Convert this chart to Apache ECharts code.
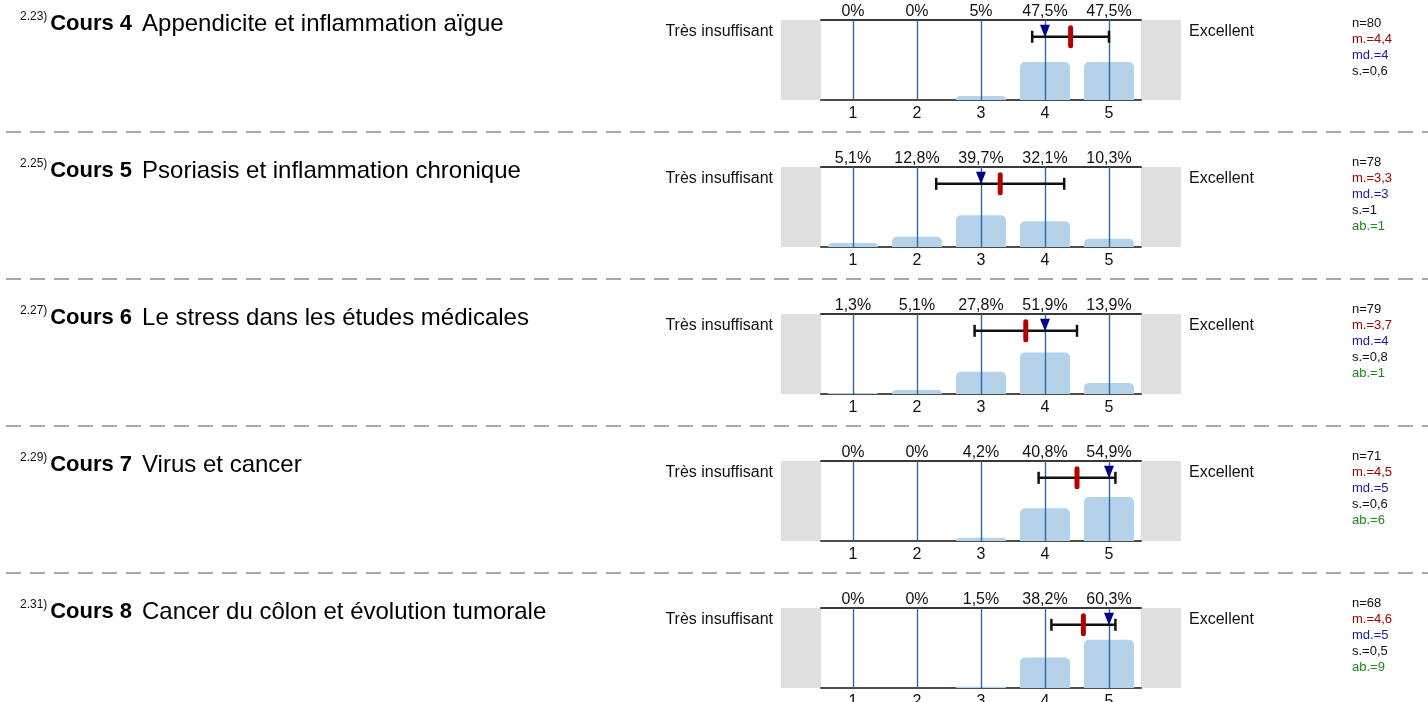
<!DOCTYPE html>
<html>
<head>
<meta charset="utf-8">
<script src="https://cdn.jsdelivr.net/npm/echarts@6/dist/echarts.min.js"></script>
<style>
html,body{margin:0;padding:0;background:#fff;}
#c{width:1428px;height:702px;}
</style>
</head>
<body>
<div id="c"></div>
<script>
// ---- data ----
const itemNumbers = ['2.23)', '2.25)', '2.27)', '2.29)', '2.31)'];
const courseLabels = ['Cours 4', 'Cours 5', 'Cours 6', 'Cours 7', 'Cours 8'];
const courseTitles = [
  'Appendicite et inflammation aïgue',
  'Psoriasis et inflammation chronique',
  'Le stress dans les études médicales',
  'Virus et cancer',
  'Cancer du côlon et évolution tumorale'
];
const scaleValues = [1, 2, 3, 4, 5];
const percents = [
  [0, 0, 5, 47.5, 47.5],
  [5.1, 12.8, 39.7, 32.1, 10.3],
  [1.3, 5.1, 27.8, 51.9, 13.9],
  [0, 0, 4.2, 40.8, 54.9],
  [0, 0, 1.5, 38.2, 60.3]
];
const nValues = [80, 78, 79, 71, 68];
const means = [4.4, 3.3, 3.7, 4.5, 4.6];
const medians = [4, 3, 4, 5, 5];
const stdDevs = [0.6, 1, 0.8, 0.6, 0.5];
const abstentions = [null, 1, 1, 6, 9];
const leftLabel = 'Très insuffisant';
const rightLabel = 'Excellent';

// ---- layout ----
const FONT = '"Liberation Sans", Arial, sans-serif';
const PLOT_LEFT = 821, PLOT_W = 320, PLOT_H = 80, TOP0 = 20, STEP = 147;
const ERR_Y = 79;
const fr = v => String(v).replace('.', ',');

const grids = [], xAxes = [], yAxes = [], series = [], graphics = [];

for (let i = 0; i < percents.length; i++) {
  const top = TOP0 + STEP * i;
  grids.push({left: PLOT_LEFT, top: top, width: PLOT_W, height: PLOT_H,
    containLabel: false, outerBoundsMode: 'none'});
  const pct = percents[i];
  // bottom axis
  xAxes.push({
    type: 'value', gridIndex: i, min: 0.5, max: 5.5, position: 'bottom',
    axisLine: {show: true, lineStyle: {color: '#4d4d4d', width: 2}},
    axisTick: {show: false},
    splitLine: {show: false},
    axisLabel: {show: true, customValues: scaleValues, margin: 6,
      color: '#111', fontSize: 16, fontFamily: FONT}
  });
  // top axis (percent labels)
  xAxes.push({
    type: 'value', gridIndex: i, min: 0.5, max: 5.5, position: 'top',
    axisLine: {show: true, lineStyle: {color: '#3a3a3a', width: 2}},
    axisTick: {show: false},
    splitLine: {show: false},
    axisLabel: {show: true, customValues: scaleValues, margin: 0,
      color: '#111', fontSize: 16, fontFamily: FONT,
      formatter: v => fr(pct[Math.round(v) - 1]) + '%'}
  });
  yAxes.push({type: 'value', gridIndex: i, min: 0, max: 100, show: false});

  series.push({
    type: 'bar', xAxisIndex: 2 * i, yAxisIndex: i,
    data: scaleValues.map((v, k) => [v, pct[k]]),
    barWidth: 50,
    itemStyle: {color: '#b4d3eb', borderRadius: [5, 5, 0, 0]},
    silent: true,
    markLine: {
      silent: true, symbol: ['none', 'none'], label: {show: false},
      lineStyle: {color: '#3068a6', width: 1.4, type: 'solid'},
      data: scaleValues.map(v => ({xAxis: v}))
    },
    z: 2
  });
  series.push({
    type: 'custom', xAxisIndex: 2 * i, yAxisIndex: i, z: 5, silent: true,
    data: [[means[i], stdDevs[i], medians[i], ERR_Y]],
    renderItem: function (params, api) {
      const m = api.value(0), s = api.value(1), md = api.value(2), yv = api.value(3);
      const pL = api.coord([m - s, yv]), pR = api.coord([m + s, yv]);
      const pM = api.coord([m, yv]), pD = api.coord([md, yv]);
      const ls = {stroke: '#111', lineWidth: 2.5};
      return {type: 'group', children: [
        {type: 'line', shape: {x1: pL[0], y1: pL[1], x2: pR[0], y2: pR[1]}, style: ls},
        {type: 'line', shape: {x1: pL[0], y1: pL[1] - 6, x2: pL[0], y2: pL[1] + 6}, style: ls},
        {type: 'line', shape: {x1: pR[0], y1: pR[1] - 6, x2: pR[0], y2: pR[1] + 6}, style: ls},
        {type: 'rect', shape: {x: pM[0] - 2.5, y: pM[1] - 11.5, width: 5, height: 23, r: 2.5},
          style: {fill: '#b40000'}},
        {type: 'polygon', shape: {points: [[pD[0] - 5, pD[1] - 12], [pD[0] + 5, pD[1] - 12], [pD[0], pD[1] + 0.5]]},
          style: {fill: '#000088'}}
      ]};
    }
  });

  // gray boxes
  graphics.push({type: 'rect', z: -10, shape: {x: PLOT_LEFT - 40, y: top, width: 40, height: PLOT_H}, style: {fill: '#dfdfdf'}});
  graphics.push({type: 'rect', z: -10, shape: {x: PLOT_LEFT + PLOT_W, y: top, width: 40, height: PLOT_H}, style: {fill: '#dfdfdf'}});
  // side labels
  graphics.push({type: 'text', x: 773, y: top + 12, style: {text: leftLabel, align: 'right', verticalAlign: 'middle', font: '16px ' + FONT, fill: '#111'}});
  graphics.push({type: 'text', x: 1189, y: top + 12, style: {text: rightLabel, align: 'left', verticalAlign: 'middle', font: '16px ' + FONT, fill: '#111'}});
  // title
  graphics.push({type: 'text', x: 20, y: top + 4, style: {
    text: '{s|' + itemNumbers[i] + '}{g| }{b|' + courseLabels[i] + '}{h| }{r|' + courseTitles[i] + '}',
    verticalAlign: 'middle',
    rich: {
      s: {fontSize: 12, fontFamily: FONT, fill: '#111', verticalAlign: 'top', lineHeight: 26},
      g: {fontSize: 10, fontFamily: FONT},
      h: {fontSize: 24, fontFamily: FONT, width: 10},
      b: {fontSize: 22, fontFamily: FONT, fontWeight: 'bold', fill: '#000', lineHeight: 26},
      r: {fontSize: 24, fontFamily: FONT, fill: '#000', lineHeight: 26}
    }
  }});
  // stats
  let st = '{n|n=' + nValues[i] + '}\n{m|m.=' + fr(means[i]) + '}\n{d|md.=' + medians[i] + '}\n{s|s.=' + fr(stdDevs[i]) + '}';
  if (abstentions[i] !== null) st += '\n{a|ab.=' + abstentions[i] + '}';
  graphics.push({type: 'text', x: 1352, y: top + 27, style: {
    text: st, verticalAlign: 'middle',
    rich: {
      n: {fontSize: 13, fontFamily: FONT, fill: '#111', lineHeight: 16},
      m: {fontSize: 13, fontFamily: FONT, fill: '#a00000', lineHeight: 16},
      d: {fontSize: 13, fontFamily: FONT, fill: '#1a1aa0', lineHeight: 16},
      s: {fontSize: 13, fontFamily: FONT, fill: '#111', lineHeight: 16},
      a: {fontSize: 13, fontFamily: FONT, fill: '#1a8a1a', lineHeight: 16}
    }
  }});
  // separator
  if (i < percents.length - 1) {
    graphics.push({type: 'line', shape: {x1: 6, y1: top + 112, x2: 1428, y2: top + 112},
      style: {stroke: '#a8a8a8', lineWidth: 2, lineDash: [15, 9]}});
  }
}

const chart = echarts.init(document.getElementById('c'), null, {renderer: 'canvas'});
chart.setOption({
  animation: false,
  backgroundColor: '#fff',
  grid: grids, xAxis: xAxes, yAxis: yAxes, series: series, graphic: graphics
});
</script>
</body>
</html>
